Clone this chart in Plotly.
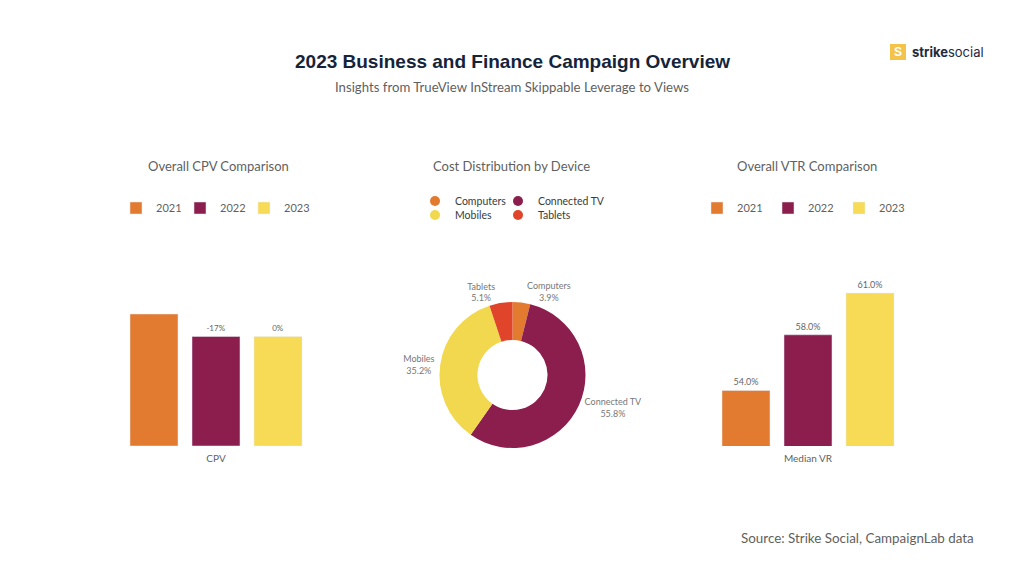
import plotly.graph_objects as go

# ---- data ----
years = ["2021", "2022", "2023"]
year_colors = ["#E27A30", "#8C1E4E", "#F7DA56"]

cpv_category = ["CPV"]
cpv_index = [100, 83, 83]          # relative CPV level (2021 = 100)
cpv_labels = ["", "-17%", "0%"]    # change vs previous year

vtr_category = ["Median VR"]
vtr_values = [54.0, 58.0, 61.0]

devices = ["Computers", "Connected TV", "Mobiles", "Tablets"]
device_share = [3.9, 55.8, 35.2, 5.1]
device_colors = ["#E27A30", "#8C1E4E", "#F2D84E", "#E0452B"]

FONT = "Lato"
GREY = "#5f5f5f"

fig = go.Figure()

# CPV bars
for yr, v, lab, c in zip(years, cpv_index, cpv_labels, year_colors):
    fig.add_trace(go.Bar(
        x=cpv_category, y=[v], name=yr, marker_color=c, text=[lab],
        textposition="outside", textfont=dict(size=8, color="#666", family=FONT),
        cliponaxis=False, xaxis="x", yaxis="y", legend="legend",
        hoverinfo="skip"))

# VTR bars
for yr, v, c in zip(years, vtr_values, year_colors):
    fig.add_trace(go.Bar(
        x=vtr_category, y=[v], name=yr, marker_color=c,
        texttemplate="%{y:.1f}%",
        textposition="outside", textfont=dict(size=9, color="#666", family=FONT),
        cliponaxis=False, xaxis="x2", yaxis="y2", legend="legend2",
        hoverinfo="skip"))

# Donut
r = 73
fig.add_trace(go.Pie(
    labels=devices, values=device_share, hole=0.48, sort=False,
    direction="clockwise", rotation=0,
    marker=dict(colors=device_colors, line=dict(width=0)),
    texttemplate="%{label}<br>%{value:.1f}%", textposition="outside",
    textfont=dict(size=9, color="#777", family=FONT),
    showlegend=False,
    domain=dict(x=[(512.5 - r) / 1024, (512.5 + r) / 1024],
                y=[1 - 448 / 576, 1 - 302 / 576])))

# Donut legend entries (circle symbols, 2 rows)
for i, (d, c) in enumerate(zip(devices, device_colors)):
    fig.add_trace(go.Scatter(
        x=[None], y=[None], mode="markers", name=d,
        marker=dict(color=c, size=10, symbol="circle"),
        legend="legend3" if i < 2 else "legend4",
        xaxis="x", yaxis="y"))

# empty spacer entries so the last item of a legend row is not clipped
for lg in ["legend", "legend3"]:
    fig.add_trace(go.Scatter(
        x=[None], y=[None], mode="markers", name=" ",
        marker=dict(color="rgba(0,0,0,0)", size=1), legend=lg,
        xaxis="x", yaxis="y"))

bot = 1 - 446 / 576
top = 1 - 250 / 576
axis_common = dict(showgrid=False, zeroline=False, showline=False, ticks="",
                   ticklabelstandoff=5,
                   tickfont=dict(size=10, color=GREY, family=FONT), fixedrange=True)
yaxis_common = dict(showgrid=False, zeroline=False, showline=False,
                    showticklabels=False, fixedrange=True)

leg_common = dict(orientation="h", xanchor="left", yanchor="middle",
                  bgcolor="rgba(0,0,0,0)", font=dict(size=11, color=GREY, family=FONT),
                  itemclick=False, itemdoubleclick=False)
pie_leg = {**leg_common, "font": dict(size=10.5, color="#3a3a3a", family=FONT)}

fig.update_layout(
    width=1024, height=576,
    margin=dict(l=0, r=0, t=0, b=0),
    paper_bgcolor="white", plot_bgcolor="white",
    font=dict(family=FONT, color=GREY),
    barmode="group", bargap=0, bargroupgap=0.226,
    xaxis=dict(domain=[123 / 1024, 309 / 1024], range=[-0.5, 0.5], **axis_common),
    yaxis=dict(domain=[bot, top], range=[0, 148.5], **yaxis_common),
    xaxis2=dict(domain=[715 / 1024, 901 / 1024], range=[-0.5, 0.5], anchor="y2", **axis_common),
    yaxis2=dict(domain=[bot, top], range=[50, 64.1], anchor="x2", **yaxis_common),
    legend=dict(x=116 / 1024, y=1 - 208 / 576, entrywidth=19, **leg_common),
    legend2=dict(x=697 / 1024, y=1 - 208 / 576, entrywidth=26, **leg_common),
    legend3=dict(x=415 / 1024, y=1 - 201 / 576, entrywidth=38, **pie_leg),
    legend4=dict(x=415 / 1024, y=1 - 215 / 576, entrywidth=38, **pie_leg),
    showlegend=True,
)

ann = [
    dict(x=512 / 1024, y=1 - 61 / 576, text="<b>2023 Business and Finance Campaign Overview</b>",
         font=dict(family="Liberation Sans", size=19, color="#15243a")),
    dict(x=512 / 1024, y=1 - 87 / 576, text="Insights from TrueView InStream Skippable Leverage to Views",
         font=dict(family=FONT, size=13.2, color=GREY)),
    dict(x=218 / 1024, y=1 - 166 / 576, text="Overall CPV Comparison",
         font=dict(family=FONT, size=13, color=GREY)),
    dict(x=511 / 1024, y=1 - 166 / 576, text="Cost Distribution by Device",
         font=dict(family=FONT, size=13, color=GREY)),
    dict(x=807 / 1024, y=1 - 166 / 576, text="Overall VTR Comparison",
         font=dict(family=FONT, size=13, color=GREY)),
    dict(x=976 / 1024, y=1 - 538 / 576, text="Source: Strike Social, CampaignLab data",
         xanchor="right", font=dict(family=FONT, size=13.4, color=GREY)),
    dict(x=898 / 1024, y=1 - 52 / 576, text="<b>S</b>",
         font=dict(family="Liberation Sans", size=12, color="white")),
    dict(x=910 / 1024, y=1 - 52 / 576, text="<b>strike</b>social", xanchor="left",
         font=dict(family="Inter", size=13, color="#1f2a40")),
]
for a in ann:
    a.setdefault("xanchor", "center")
    a.update(xref="paper", yref="paper", yanchor="middle", showarrow=False)
fig.update_layout(annotations=ann)

fig.add_shape(type="rect", xref="paper", yref="paper",
              x0=890 / 1024, x1=906 / 1024, y0=1 - 60 / 576, y1=1 - 44 / 576,
              fillcolor="#F4C34A", line=dict(width=0), layer="below")

fig.write_html("out.html")
